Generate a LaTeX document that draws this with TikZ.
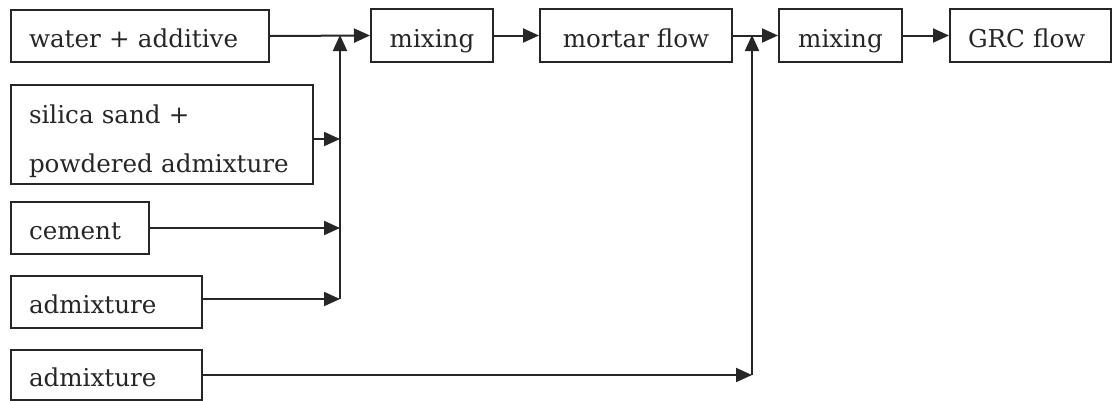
\documentclass[tikz,border=0pt]{standalone}
\usepackage{fontspec}
\setmainfont{DejaVu Serif}
\usetikzlibrary{arrows.meta}
\begin{document}
\begin{tikzpicture}[x=1pt,y=-1pt,
  every node/.style={font=\fontsize{24.6}{49}\selectfont, text=black!85},
  box/.style={draw=black!85, line width=2pt, anchor=north west, inner xsep=0pt, inner ysep=0pt},
  one/.style={text height=23pt, text depth=0pt},
  inbox/.style={box, align=left},
  arr/.style={draw=black!85, line width=2pt, -{Triangle[length=16pt,width=14pt]}}]
\useasboundingbox (0,0) rectangle (1112,400);
% inputs
\node[inbox, one, minimum width=258pt, minimum height=52pt, text width=222pt] (w) at (10,9) {water + additive};
\node[inbox, minimum width=302pt, minimum height=99pt, text width=266pt] (s) at (10,84) {\rule{0pt}{31.9pt}silica sand +\\powdered admixture};
\node[inbox, one, minimum width=138pt, minimum height=52pt, text width=102pt] (c) at (10,201) {cement};
\node[inbox, one, minimum width=191pt, minimum height=52pt, text width=155pt] (a1) at (10,275) {admixture};
\node[inbox, one, minimum width=191pt, minimum height=50pt, text width=155pt] (a2) at (10,349) {admixture};
% process
\node[box, one, minimum width=122pt, minimum height=53pt] (m1) at (370,8) {mixing};
\node[box, one, minimum width=192pt, minimum height=53pt] (mf) at (539,8) {mortar flow};
\node[box, one, minimum width=123pt, minimum height=53pt] (m2) at (778,8) {mixing};
\node[box, one, minimum width=161pt, minimum height=53pt, align=left, text width=125pt] (g) at (949,8) {GRC flow};
% junctions
\coordinate (j1) at (340,35);
\coordinate (j2) at (752,35);
% connectors
\draw[arr] (w.east) -- (m1.west);
\draw[arr] (m1.east) -- (mf.west);
\draw[arr] (mf.east) -- (m2.west);
\draw[arr] (m2.east) -- (g.west);
\draw[arr] ([yshift=-4.5pt]s.east) -- ([yshift=-4.5pt]s.east -| j1);
\draw[arr] (c.east) -- (c.east -| j1);
\draw[arr] ([yshift=3pt]a1.east) -- ([yshift=3pt]a1.east -| j1);
\draw[arr] ([yshift=3pt]a1.east -| j1) -- (j1);
\draw[arr] (a2.east) -- (a2.east -| j2);
\draw[arr] (a2.east -| j2) -- (j2);
\end{tikzpicture}
\end{document}
